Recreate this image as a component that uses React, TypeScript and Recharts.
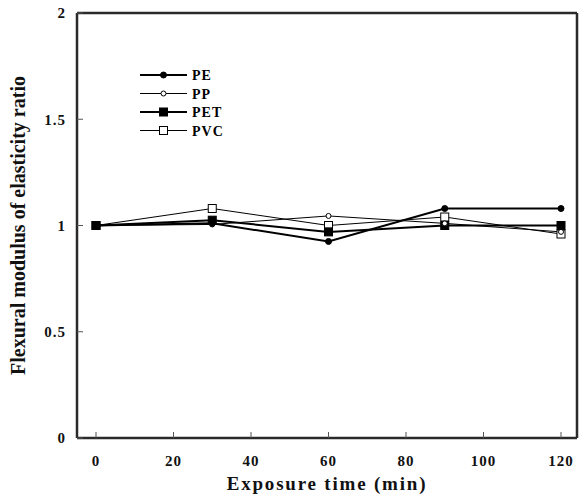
import { LineChart, Line, XAxis, YAxis, Legend } from 'recharts'

const times = [0, 30, 60, 90, 120]
const pe = [1, 1.01, 0.925, 1.08, 1.08]
const pp = [1, 1.005, 1.045, 1.01, 0.97]
const pet = [1, 1.025, 0.97, 1.0, 1.0]
const pvc = [1, 1.08, 1.0, 1.04, 0.96]

const xTicks = [0, 20, 40, 60, 80, 100, 120]
const yTicks = [0, 0.5, 1, 1.5, 2]

const data = times.map((t, i) => ({ time: t, PE: pe[i], PP: pp[i], PET: pet[i], PVC: pvc[i] }))

const FONT = '"Liberation Serif", "Times New Roman", serif'
const FRAME = '#2a2a2a'

type Style = { name: string; width: number; shape: 'circle' | 'square'; filled: boolean; size: number }

const SERIES: Style[] = [
  { name: 'PE', width: 2, shape: 'circle', filled: true, size: 3 },
  { name: 'PP', width: 1, shape: 'circle', filled: false, size: 2.5 },
  { name: 'PET', width: 2, shape: 'square', filled: true, size: 4 },
  { name: 'PVC', width: 1, shape: 'square', filled: false, size: 4 },
]

function marker(s: Style, cx: number, cy: number, key?: string) {
  const fill = s.filled ? '#000' : '#fff'
  if (s.shape === 'circle') {
    return <circle key={key} cx={cx} cy={cy} r={s.size} fill={fill} stroke="#000" strokeWidth={1} />
  }
  return (
    <rect key={key} x={cx - s.size} y={cy - s.size} width={s.size * 2} height={s.size * 2}
      fill={fill} stroke="#000" strokeWidth={1} />
  )
}

function makeDot(s: Style) {
  return (props: any) => {
    const { cx, cy, index } = props
    if (cx == null || cy == null) return <g key={`${s.name}-${index}`} />
    return marker(s, cx, cy, `${s.name}-${index}`)
  }
}

function LegendBox() {
  return (
    <svg width={120} height={76}>
      {SERIES.map((s, i) => {
        const y = 8 + i * 18.5
        return (
          <g key={s.name}>
            <line x1={0} x2={47} y1={y} y2={y} stroke="#000" strokeWidth={s.width} />
            {marker(s, 23.5, y)}
            <text x={52} y={y + 5} fontFamily={FONT} fontWeight="bold" fontSize={14} letterSpacing={1}>
              {s.name}
            </text>
          </g>
        )
      })}
    </svg>
  )
}

export default function App() {
  return (
    <div style={{ position: 'absolute', left: 0, top: 0, background: '#fff' }}>
      <LineChart width={579} height={497} data={data} margin={{ top: 12, right: 1, bottom: 0, left: 0 }}>
        <XAxis
          dataKey="time"
          type="number"
          domain={[0, 120]}
          ticks={xTicks}
          padding={{ left: 19, right: 16 }}
          height={59}
          tickSize={-6}
          tickMargin={23}
          axisLine={{ stroke: FRAME, strokeWidth: 2.5 }}
          tickLine={{ stroke: '#555', strokeWidth: 1 }}
          tick={{ fill: '#111', fontFamily: FONT, fontWeight: 'bold', fontSize: 15, letterSpacing: 1 }}
          label={{ value: 'Exposure time (min)', position: 'center', dy: 16, fill: '#111', fontFamily: FONT, fontWeight: 'bold', fontSize: 19, letterSpacing: 1.8 }}
        />
        <XAxis xAxisId="top" orientation="top" dataKey="time" type="number" domain={[0, 120]}
          height={1} tick={false} tickLine={false} axisLine={{ stroke: FRAME, strokeWidth: 2.5 }} />
        <YAxis
          type="number"
          domain={[0, 2]}
          ticks={yTicks}
          width={77}
          tickSize={-6}
          tickMargin={17}
          axisLine={{ stroke: FRAME, strokeWidth: 2.5 }}
          tickLine={{ stroke: '#555', strokeWidth: 1 }}
          tick={{ fill: '#111', fontFamily: FONT, fontWeight: 'bold', fontSize: 15, letterSpacing: 1 }}
          label={{ value: 'Flexural modulus of elasticity ratio', angle: -90, position: 'center', dx: -21, fill: '#111', fontFamily: FONT, fontWeight: 'bold', fontSize: 20 }}
        />
        <YAxis yAxisId="right" orientation="right" type="number" domain={[0, 2]}
          width={1} tick={false} tickLine={false} axisLine={{ stroke: FRAME, strokeWidth: 2.5 }} />
        <Legend
          content={() => <LegendBox />}
          layout="horizontal"
          verticalAlign="middle"
          wrapperStyle={{ position: 'absolute', left: 140, top: 67, width: 120 }}
        />
        {[...SERIES].reverse().map((s) => (
          <Line
            key={s.name}
            dataKey={s.name}
            stroke="#000"
            strokeWidth={s.width}
            dot={makeDot(s)}
            activeDot={false}
            isAnimationActive={false}
          />
        ))}
      </LineChart>
    </div>
  )
}
